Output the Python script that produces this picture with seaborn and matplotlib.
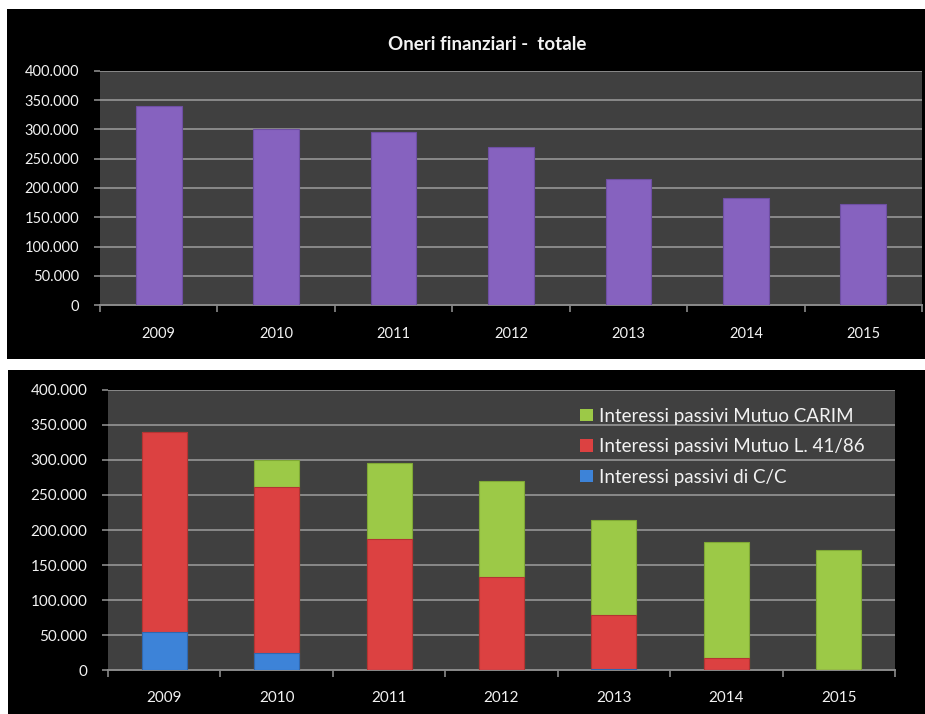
import matplotlib
matplotlib.use("Agg")
import matplotlib.pyplot as plt
from matplotlib.patches import Rectangle, Patch
from matplotlib.ticker import FixedLocator, FuncFormatter
import numpy as np
import pandas as pd
import seaborn as sns

# ---- data ----
years = ["2009", "2010", "2011", "2012", "2013", "2014", "2015"]
totale = [340000, 300000, 296000, 270000, 215000, 183000, 172000]
interessi_cc = [55000, 24000, 0, 0, 2000, 0, 0]
mutuo_l4186 = [285000, 237000, 187000, 133000, 77000, 17000, 0]
mutuo_carim = [0, 39000, 109000, 137000, 136000, 166000, 172000]
series_labels = ["Interessi passivi di C/C",
                 "Interessi passivi Mutuo L. 41/86",
                 "Interessi passivi Mutuo CARIM"]
y_ticks = [0, 50000, 100000, 150000, 200000, 250000, 300000, 350000, 400000]
title_text = "Oneri finanziari -  totale"

# ---- colours ----
PURPLE = "#8662bf"
BLUE = "#3d83d8"
RED = "#dc4141"
GREEN = "#9cc947"
PLOT_BG = "#404040"
GRID = "#8a8a8a"
TEXT = "#f2f2f2"

sns.set_theme(style="dark")
plt.rcParams["font.family"] = ["Lato", "DejaVu Sans"]

fig = plt.figure(figsize=(9.25, 7.14), dpi=100, facecolor="white")

# black chart panels behind each chart
fig.patches.append(Rectangle((0.0076, 0.4972), 0.9924, 0.4902, transform=fig.transFigure,
                             facecolor="black", edgecolor="none", zorder=-5))
fig.patches.append(Rectangle((0.0086, 0.0), 0.9914, 0.4818, transform=fig.transFigure,
                             facecolor="black", edgecolor="none", zorder=-5))

ax1 = fig.add_axes([0.1081, 0.5728, 0.8887, 0.3278])
ax2 = fig.add_axes([0.1168, 0.0616, 0.8508, 0.3922])


def thousands(v, pos):
    return f"{v:,.0f}".replace(",", ".")


def style_axes(ax, xpad, ypad, fsize):
    ax.set_facecolor(PLOT_BG)
    ax.set_ylim(0, 400000)
    ax.set_xlim(-0.5, len(years) - 0.5)
    ax.yaxis.set_major_locator(FixedLocator(y_ticks))
    ax.yaxis.set_major_formatter(FuncFormatter(thousands))
    ax.grid(axis="y", color=GRID, linewidth=1.4)
    ax.grid(axis="x", visible=False)
    ax.set_axisbelow(True)
    for s in ["left", "top", "right"]:
        ax.spines[s].set_visible(False)
    ax.spines["bottom"].set_color(GRID)
    ax.spines["bottom"].set_linewidth(1.4)
    ax.set_xticks(range(len(years)), years)
    ax.set_xticks(np.arange(-0.5, len(years), 1.0), minor=True)
    ax.tick_params(axis="x", which="major", length=0, pad=xpad, labelcolor=TEXT,
                   labelsize=fsize)
    ax.tick_params(axis="x", which="minor", length=5, width=1.2, color=GRID,
                   direction="out", bottom=True)
    ax.tick_params(axis="y", length=4, width=1.2, color=GRID, direction="out",
                   left=True, pad=ypad, labelcolor=TEXT, labelsize=fsize)
    ax.set_xlabel("")
    ax.set_ylabel("")


# ---- top: total ----
df_tot = pd.DataFrame({"anno": years, "totale": totale})
sns.barplot(data=df_tot, x="anno", y="totale", color=PURPLE, saturation=1,
            width=0.39, edgecolor="#6e4fa3", linewidth=0.8, ax=ax1, zorder=3)
style_axes(ax1, xpad=16, ypad=11, fsize=10.5)
fig.text(0.527, 0.937, title_text, ha="center", va="center", color=TEXT,
         fontsize=13.5, fontweight="bold")

# ---- bottom: stacked components (cumulative layers) ----
df_stack = pd.DataFrame({
    "anno": years,
    "cc": interessi_cc,
    "l4186": mutuo_l4186,
    "carim": mutuo_carim,
})
df_stack["cum_l4186"] = df_stack["cc"] + df_stack["l4186"]
df_stack["cum_carim"] = df_stack["cum_l4186"] + df_stack["carim"]

for col, colr, edge in [("cum_carim", GREEN, "#7fa835"),
                        ("cum_l4186", RED, "#b53333"),
                        ("cc", BLUE, "#2f68b0")]:
    sns.barplot(data=df_stack, x="anno", y=col, color=colr, saturation=1,
                width=0.40, edgecolor=edge, linewidth=0.8, ax=ax2, zorder=3)
style_axes(ax2, xpad=15, ypad=11, fsize=11)

handles = [Patch(facecolor=GREEN, edgecolor="none"),
           Patch(facecolor=RED, edgecolor="none"),
           Patch(facecolor=BLUE, edgecolor="none")]
leg = ax2.legend(handles, series_labels[::-1], loc="upper left",
                 bbox_to_anchor=(0.600, 0.937), frameon=False, fontsize=13.5,
                 handlelength=0.68, handleheight=0.68, handletextpad=0.33,
                 labelspacing=0.72, borderpad=0, borderaxespad=0)
for t in leg.get_texts():
    t.set_color(TEXT)

fig.savefig("out.png", dpi=100, facecolor="white")
